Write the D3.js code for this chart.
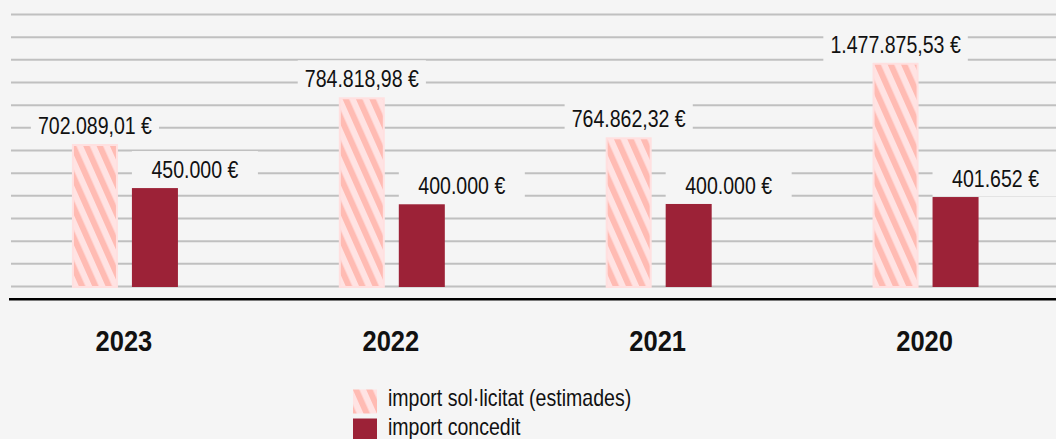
<!DOCTYPE html>
<html lang="ca">
<head>
<meta charset="utf-8">
<title>Import sol·licitat i concedit</title>
<script src="https://d3js.org/d3.v7.min.js"></script>
<style>
  body { margin: 0; background: #f5f5f5; }
  svg { display: block; }
  text { font-family: "Liberation Sans", Arial, sans-serif; fill: #111; }
</style>
</head>
<body>
<script>
const years = ["2023", "2022", "2021", "2020"];
const solicitat = [702089.01, 784818.98, 764862.32, 1477875.53];
const concedit = [450000, 400000, 400000, 401652];
// the original bars are not to scale with their labels:
// these are the heights as drawn, in grid units (100.000 per line)
const solicitatBar = [626500, 832500, 656000, 985000];
const conceditBar = [432000, 360500, 362000, 392500];
const seriesNames = ["import sol·licitat (estimades)", "import concedit"];
const gridMax = 1200000;

const width = 1056, height = 439;
const pink = "#ffe3e3", stripe = "#ffbbb3", wine = "#9c2237";
const narrow = 0.85; // the original uses a condensed face

const euro = d3.formatLocale({decimal: ",", thousands: ".", grouping: [3], currency: ["", " €"]});
const fmt2 = euro.format("$,.2f"), fmt0 = euro.format("$,.0f");

const svg = d3.select("body").append("svg")
    .attr("width", width)
    .attr("height", height);

svg.append("rect").attr("width", width).attr("height", height).attr("fill", "#f5f5f5");

// diagonal hatch
const pat = svg.append("defs").append("pattern")
    .attr("id", "hatch")
    .attr("patternUnits", "userSpaceOnUse")
    .attr("width", 12.2).attr("height", 12.2)
    .attr("patternTransform", "rotate(-24)");
pat.append("rect").attr("width", 12.2).attr("height", 12.2).attr("fill", pink);
pat.append("rect").attr("width", 6).attr("height", 12.2).attr("fill", stripe);

const x = d3.scaleBand().domain(years).range([-8.5, 1059]);
const x1 = d3.scaleBand().domain(["s", "c"]).range([x.bandwidth() / 2 - 53, x.bandwidth() / 2 + 53]).paddingInner(0.233);
const y = d3.scaleLinear().domain([0, gridMax]).range([286, 14]);

// grid lines
const grid = svg.append("g")
    .attr("transform", "translate(11,0)")
    .call(d3.axisRight(y).ticks(12).tickSize(width - 11).tickFormat(""));
grid.select(".domain").remove();
grid.selectAll("line").attr("stroke", "#c0c0c0").attr("stroke-width", 2);

const rows = years.map((yr, i) => ({year: yr, sol: solicitat[i], con: concedit[i], solH: solicitatBar[i], conH: conceditBar[i]}));

const groups = svg.selectAll(".grp").data(rows).enter().append("g")
    .attr("class", "grp")
    .attr("transform", d => "translate(" + x(d.year) + ",0)");

groups.append("rect")
    .attr("x", x1("s") + 1).attr("width", x1.bandwidth() - 2)
    .attr("y", d => y(d.solH) + 1).attr("height", d => y(0) - y(d.solH))
    .attr("fill", "url(#hatch)")
    .attr("stroke", "#ffe0e0").attr("stroke-width", 2);

groups.append("rect")
    .attr("x", x1("c")).attr("width", x1.bandwidth())
    .attr("y", d => y(d.conH)).attr("height", d => y(0) - y(d.conH) + 1)
    .attr("fill", wine);

// value labels with a box that hides the grid
function label(g, txt, cx, base, leftAligned) {
    const box = g.append("rect").attr("fill", "#f5f5f5");
    const t = g.append("text").attr("font-size", 23).attr("text-anchor", "middle").text(txt);
    const w = t.node().getComputedTextLength() * narrow;
    const bw = Math.max(126, w + 14);
    const left = leftAligned ? cx : cx - bw / 2;
    box.attr("x", left).attr("width", bw).attr("y", base - 27).attr("height", 36.5);
    t.attr("transform", "translate(" + (left + bw / 2) + "," + base + ") scale(" + narrow + ",1)");
}

groups.each(function(d) {
    const g = d3.select(this);
    label(g, fmt2(d.sol), x1("s") + x1.bandwidth() / 2, y(d.solH) - 10, false);
    label(g, fmt0(d.con), x1("c"), y(d.conH) - 10, true);
});

// baseline
svg.append("line")
    .attr("x1", 9).attr("x2", width)
    .attr("y1", 299.3).attr("y2", 299.3)
    .attr("stroke", "#000").attr("stroke-width", 2.5);

// year labels
const xAxis = svg.append("g")
    .attr("transform", "translate(0,299)")
    .call(d3.axisBottom(x).tickSize(0));
xAxis.select(".domain").remove();
xAxis.selectAll("text")
    .attr("y", 0).attr("dy", null)
    .attr("transform", "translate(-1,51.5) scale(" + narrow + ",1)")
    .attr("font-size", 30).attr("font-weight", "bold")
    .attr("font-family", "'Liberation Sans', Arial, sans-serif")
    .attr("fill", "#111");

// legend
const legend = svg.append("g").attr("transform", "translate(353,0)");
const legRows = [{name: seriesNames[0], fill: "url(#hatch)", y: 389.5}, {name: seriesNames[1], fill: wine, y: 418.5}];
legRows.forEach(r => {
    legend.append("rect").attr("x", 0).attr("y", r.y).attr("width", 24).attr("height", 24).attr("fill", r.fill);
    legend.append("text")
        .attr("transform", "translate(35," + (r.y + 16.5) + ") scale(" + narrow + ",1)")
        .attr("font-size", 23).text(r.name);
});
</script>
</body>
</html>
